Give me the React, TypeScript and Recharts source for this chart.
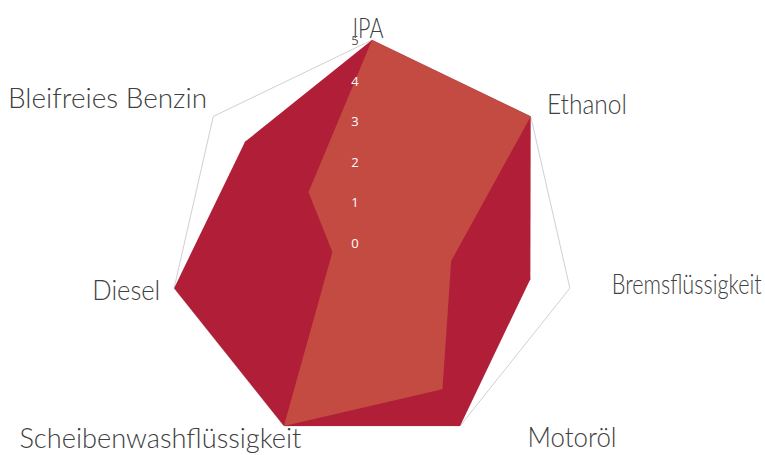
import React from 'react';
import { RadarChart, Radar, PolarGrid, PolarAngleAxis, PolarRadiusAxis } from 'recharts';

const categories = ['IPA', 'Ethanol', 'Bremsflüssigkeit', 'Motoröl', 'Scheibenwashflüssigkeit', 'Diesel', 'Bleifreies Benzin'];
const seriesA = [5, 5, 4, 5, 5, 5, 4];
const seriesB = [5, 5, 2, 4, 5, 1, 2];
const radiusTicks = [0, 1, 2, 3, 4, 5];

const data = categories.map((c, i) => ({ name: c, a: seriesA[i], b: seriesB[i] }));

const labelPlacement: Record<string, { dx: number; dy: number; anchor: string; w: number }> = {
  'IPA': { dx: -4, dy: 6, anchor: 'middle', w: 31 },
  'Ethanol': { dx: 10, dy: 3, anchor: 'start', w: 80 },
  'Bremsflüssigkeit': { dx: 34, dy: 4, anchor: 'start', w: 150 },
  'Motoröl': { dx: 64, dy: 14, anchor: 'start', w: 89 },
  'Scheibenwashflüssigkeit': { dx: 21, dy: 15, anchor: 'end', w: 282 },
  'Diesel': { dx: -6, dy: 10, anchor: 'end', w: 68 },
  'Bleifreies Benzin': { dx: 0, dy: -3, anchor: 'end', w: 199 },
};

const FONT = 'Lato, "DejaVu Sans", sans-serif';

const AngleTick = (props: any) => {
  const { x, y, payload } = props;
  const p = labelPlacement[payload.value] || { dx: 0, dy: 0, anchor: 'middle', w: 0 };
  return (
    <text
      x={x + p.dx}
      y={y + p.dy}
      textAnchor={p.anchor}
      fill="#404040"
      fontFamily={FONT}
      fontWeight={300}
      fontSize={27}
      textLength={p.w || undefined}
      lengthAdjust="spacingAndGlyphs"
    >
      {payload.value}
    </text>
  );
};

const RadiusTick = (props: any) => {
  const { x, y, payload } = props;
  const isTop = payload.value === 5;
  return (
    <text x={x - 17} y={y} textAnchor="middle" dominantBaseline="central" fill={isTop ? '#595959' : '#ffffff'} fontFamily='"Open Sans", sans-serif' fontSize={13}>
      {payload.value}
    </text>
  );
};

export default function App() {
  return (
    <div style={{ position: 'absolute', left: 0, top: 0, width: 765, height: 455, background: '#fff' }}>
      <RadarChart width={765} height={455} data={data} cx={372} cy={243} outerRadius={203} margin={{ top: 0, right: 0, bottom: 0, left: 0 }}>
        <PolarGrid gridType="polygon" radialLines={false} stroke="#d0d0d0" />
        <PolarAngleAxis dataKey="name" tick={AngleTick} tickLine={false} axisLine={false} />
        <Radar dataKey="a" fill="#b01f37" fillOpacity={1} stroke="none" isAnimationActive={false} dot={false} />
        <Radar dataKey="b" fill="#c34b42" fillOpacity={1} stroke="none" isAnimationActive={false} dot={false} />
        <PolarRadiusAxis angle={90} domain={[0, 5]} ticks={radiusTicks} tickCount={6} axisLine={false} tickLine={false} tick={RadiusTick} />
      </RadarChart>
    </div>
  );
}
